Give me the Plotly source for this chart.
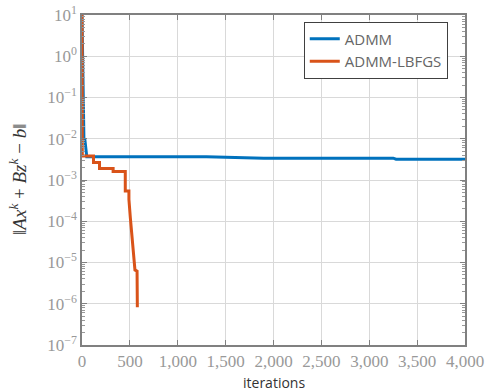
import plotly.graph_objects as go

# ADMM residual (iteration, value)
admm_iter = [0, 20, 30, 50, 1300, 1900, 3250, 3280, 4000]
admm_val = [10, 1.0e-2, 9.5e-3, 3.65e-3, 3.65e-3, 3.38e-3, 3.38e-3, 3.2e-3, 3.2e-3]

# ADMM-LBFGS residual (iteration, value)
lbfgs_iter = [0, 3, 120, 120, 183, 183, 325, 325, 452, 452, 490, 490, 505, 519, 537, 553, 575, 578]
lbfgs_val = [10, 3.8e-3, 3.8e-3, 2.65e-3, 2.65e-3, 1.9e-3, 1.9e-3, 1.6e-3, 1.6e-3, 5.4e-4, 5.4e-4,
             3.4e-4, 1.2e-4, 5.6e-5, 1.9e-5, 6.6e-6, 6.2e-6, 8.2e-7]

x_ticks = [0, 500, 1000, 1500, 2000, 2500, 3000, 3500, 4000]
x_ticktext = ["0", "500", "1,000", "1,500", "2,000", "2,500", "3,000", "3,500", "4,000"]
y_tickvals = [1e1, 1e0, 1e-1, 1e-2, 1e-3, 1e-4, 1e-5, 1e-6, 1e-7]
y_ticktext = ["10<sup>1</sup>", "10<sup>0</sup>", "10<sup>\u22121</sup>", "10<sup>\u22122</sup>",
              "10<sup>\u22123</sup>", "10<sup>\u22124</sup>", "10<sup>\u22125</sup>",
              "10<sup>\u22126</sup>", "10<sup>\u22127</sup>"]

fig = go.Figure()
fig.add_trace(go.Scatter(x=admm_iter, y=admm_val, mode="lines", name="ADMM",
                         line=dict(color="#0072BD", width=3)))
fig.add_trace(go.Scatter(x=lbfgs_iter, y=lbfgs_val, mode="lines", name="ADMM-LBFGS",
                         line=dict(color="#D95319", width=3)))

serif = "'Liberation Serif', 'DejaVu Serif', serif"
fig.update_layout(
    width=486, height=391,
    margin=dict(l=82, r=21, t=15, b=46),
    plot_bgcolor="white", paper_bgcolor="white",
    showlegend=True,
    legend=dict(x=0.955, y=0.98, xanchor="right", yanchor="top",
                bgcolor="white", bordercolor="#404040", borderwidth=1,
                font=dict(family="Open Sans, sans-serif", size=15, color="#666666"),
                tracegroupgap=0, itemwidth=30),
    annotations=[
        dict(text="iterations", xref="paper", yref="paper", x=0.5, y=0, yshift=-37,
             xanchor="center", yanchor="middle", showarrow=False,
             font=dict(family="Open Sans, sans-serif", size=14, color="#333333")),
        dict(text="\u2016<i>Ax</i><sup><i>k</i></sup> + <i>Bz</i><sup><i>k</i></sup> \u2212 <i>b</i>\u2016",
             xref="paper", yref="paper", x=0, y=0.5, xshift=-64, xanchor="center", yanchor="middle",
             textangle=-90, showarrow=False,
             font=dict(family=serif, size=19, color="#333333")),
    ],
)
fig.update_xaxes(
    range=[0, 4000], tickvals=x_ticks, ticktext=x_ticktext, automargin=False,
    showgrid=True, gridcolor="#d9d9d9", gridwidth=1,
    showline=True, linecolor="#808080", linewidth=1.5, mirror="ticks",
    ticks="inside", ticklen=5, tickcolor="#808080",
    tickfont=dict(family=serif, size=17, color="#999999"),
    zeroline=False,
)
fig.update_yaxes(
    type="log", range=[-7, 1], tickvals=y_tickvals, ticktext=y_ticktext, automargin=False,
    showgrid=True, gridcolor="#d9d9d9", gridwidth=1,
    showline=True, linecolor="#808080", linewidth=1.5, mirror="ticks",
    ticks="inside", ticklen=5, tickcolor="#808080",
    minor=dict(tickmode="linear", dtick="D1", ticks="inside", ticklen=3,
               tickcolor="#999999", showgrid=False),
    tickfont=dict(family=serif, size=17, color="#999999"),
    zeroline=False,
)
fig.write_html("out.html", config={"displayModeBar": False},
               post_script="document.body.style.margin='0px';")
